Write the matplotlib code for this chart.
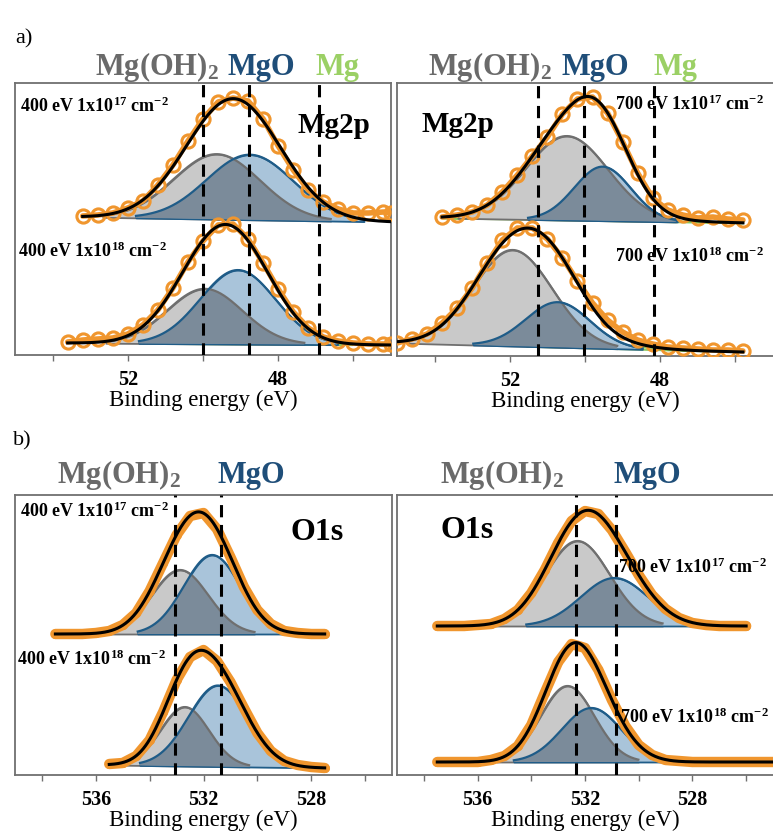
import numpy as np
import matplotlib.pyplot as plt

plt.rcParams['font.family'] = ['Liberation Serif', 'DejaVu Serif']
plt.rcParams['mathtext.fontset'] = 'custom'
plt.rcParams['mathtext.rm'] = 'Liberation Serif'
plt.rcParams['mathtext.bf'] = 'Liberation Serif:bold'
plt.rcParams['mathtext.default'] = 'bf'

SERIF = 'Liberation Serif'

# ---- Mg 2p, 400 eV, 1x10^17 cm^-2 ----
mg400_17_energy = [53.2, 52.8, 52.4, 52.0, 51.6, 51.2, 50.8, 50.4, 50.0, 49.6, 49.2,
                   48.8, 48.4, 48.0, 47.6, 47.2, 46.8, 46.4, 46.0, 45.6, 45.2, 45.0]
mg400_17_counts = [139, 140, 142, 147, 154, 170, 190, 214, 236, 253, 257,
                   254, 236, 209, 185, 165, 153, 146, 142, 142, 143, 142]
mg400_17_bg = [138, 133]            # background at first / last energy
mg400_17_centre = [49.63, 48.75]    # Mg(OH)2, MgO
mg400_17_height = [65, 65]
mg400_17_width = [1.15, 1.15]

# ---- Mg 2p, 400 eV, 1x10^18 cm^-2 ----
mg400_18_energy = [53.6, 53.2, 52.8, 52.4, 52.0, 51.6, 51.2, 50.8, 50.4, 50.0, 49.6,
                   49.2, 48.8, 48.4, 48.0, 47.6, 47.2, 46.8, 46.4, 46.0, 45.6, 45.2, 45.0]
mg400_18_counts = [13, 15, 16, 17, 21, 30, 45, 67, 93, 114, 130,
                   131, 116, 92, 66, 43, 27, 18, 14, 12, 11, 11, 11]
mg400_18_bg = [12, 10]
mg400_18_centre = [49.95, 49.07, 48.4]   # Mg(OH)2, MgO, Mg
mg400_18_height = [55, 74, 4]
mg400_18_width = [1.0, 1.0, 0.9]

# ---- Mg 2p, 700 eV, 1x10^17 cm^-2 ----
mg700_17_energy = [53.8, 53.4, 53.0, 52.6, 52.2, 51.8, 51.4, 51.0, 50.6, 50.2, 49.8,
                   49.4, 49.0, 48.6, 48.2, 47.8, 47.4, 47.0, 46.6, 46.2, 45.8]
mg700_17_counts = [139, 141, 144, 151, 164, 181, 200, 219, 242, 257, 259,
                   243, 214, 183, 158, 146, 141, 138, 139, 137, 136]
mg700_17_bg = [138, 133]
mg700_17_centre = [50.48, 49.53, 49.7]
mg700_17_height = [84, 54, 3]
mg700_17_width = [1.1, 0.75, 1.6]

# ---- Mg 2p, 700 eV, 1x10^18 cm^-2 ----
mg700_18_energy = [55.0, 54.6, 54.2, 53.8, 53.4, 53.0, 52.6, 52.2, 51.8, 51.4, 51.0, 50.6,
                   50.2, 49.8, 49.4, 49.0, 48.6, 48.2, 47.8, 47.4, 47.0, 46.6, 46.2, 45.8]
mg700_18_counts = [13, 17, 22, 33, 48, 68, 93, 116, 128, 128, 117, 98,
                   75, 53, 36, 24, 16, 12, 9, 8, 7, 6, 6, 5]
mg700_18_bg = [13, 4]
mg700_18_centre = [51.92, 50.72, 49.2]
mg700_18_height = [96, 45, 4]
mg700_18_width = [1.05, 0.85, 0.9]

# ---- O 1s, 400 eV, 1x10^17 cm^-2 ----
o400_17_energy = [537.5, 537.0, 536.5, 536.0, 535.5, 535.0, 534.5, 534.0, 533.5, 533.0, 532.5,
                  532.0, 531.5, 531.0, 530.5, 530.0, 529.5, 529.0, 528.5, 528.0, 527.5]
o400_17_counts = [141, 141, 141, 142, 144, 150, 162, 184, 212, 240, 259,
                  262, 246, 218, 188, 165, 151, 144, 142, 141, 141]
o400_17_bg = [141, 141]
o400_17_centre = [532.87, 531.68]
o400_17_height = [64, 79]
o400_17_width = [1.05, 1.05]

# ---- O 1s, 400 eV, 1x10^18 cm^-2 ----
o400_18_energy = [535.5, 535.0, 534.5, 534.0, 533.5, 533.0, 532.5, 532.0, 531.5,
                  531.0, 530.5, 530.0, 529.5, 529.0, 528.5, 528.0, 527.5]
o400_18_counts = [11, 12, 19, 35, 63, 95, 118, 125, 114, 93, 67, 42, 24, 14, 10, 8, 7]
o400_18_bg = [10, 7]
o400_18_centre = [532.69, 531.46]
o400_18_height = [59, 81]
o400_18_width = [0.9, 1.1]

# ---- O 1s, 700 eV, 1x10^17 cm^-2 ----
o700_17_energy = [537.5, 537.0, 536.5, 536.0, 535.5, 535.0, 534.5, 534.0, 533.5, 533.0, 532.5, 532.0,
                  531.5, 531.0, 530.5, 530.0, 529.5, 529.0, 528.5, 528.0, 527.5, 527.0, 526.5, 526.0]
o700_17_counts = [149, 149, 149, 150, 151, 156, 165, 182, 205, 232, 254, 264,
                  261, 245, 223, 200, 180, 166, 157, 152, 150, 149, 149, 149]
o700_17_bg = [149, 149]
o700_17_centre = [532.28, 530.9]
o700_17_height = [85, 48]
o700_17_width = [1.2, 1.25]

# ---- O 1s, 700 eV, 1x10^18 cm^-2 ----
o700_18_energy = [537.5, 537.0, 536.5, 536.0, 535.5, 535.0, 534.5, 534.0, 533.5, 533.0, 532.5, 532.0, 531.5,
                  531.0, 530.5, 530.0, 529.5, 529.0, 528.5, 528.0, 527.5, 527.0, 526.5, 526.0, 525.5, 525.0]
o700_18_counts = [13, 13, 13, 13, 15, 19, 29, 50, 82, 113, 131, 127, 105,
                  75, 49, 30, 20, 15, 14, 13, 13, 13, 13, 13, 13, 13]
o700_18_bg = [13, 13]
o700_18_centre = [532.65, 531.76]
o700_18_height = [76, 54]
o700_18_width = [1.0, 1.1]

# reference energies of Mg(OH)2 / MgO / Mg marked with dashed lines
mg400_lines = [50.0, 48.78, 46.91]
mg700_lines = [51.26, 50.03, 48.17]
o400_lines = [533.06, 531.35]
o700_lines = [532.35, 530.83]

ORANGE = '#f0962e'
GRAY_FACE, GRAY_EDGE = '#c9c9c9', '#6f6f6f'
BLUE_FACE, BLUE_EDGE = '#a9c4da', '#1f5c88'
OVERLAP = '#7b8b9a'
GREEN_FACE, GREEN_EDGE = '#b5dc8f', '#8cc65a'
LBL_GRAY, LBL_BLUE, LBL_GREEN = '#6a6a6a', '#1f4e79', '#9bd065'

W, H = 773, 833


def peak(e, centre, height, width):
    return height * np.exp(-(e - centre) ** 2 / (2 * width ** 2))


def draw_spectrum(ax, energy, counts, bg_ends, centres, heights, widths, dense):
    energy = np.asarray(energy, float)
    e = np.linspace(energy[0], energy[-1], 400)
    bg = np.interp(e, [energy[-1], energy[0]], [bg_ends[1], bg_ends[0]])
    comps = [peak(e, c, h, w) for c, h, w in zip(centres, heights, widths)]
    masks = [comp > 0.03 * h for comp, h in zip(comps, heights)]

    if len(comps) > 2:
        ax.fill_between(e[masks[2]], bg[masks[2]], (bg + comps[2])[masks[2]],
                        facecolor=GREEN_FACE, edgecolor=GREEN_EDGE, lw=1.2, zorder=1)
    g, b = comps[0], comps[1]
    ax.fill_between(e[masks[0]], bg[masks[0]], (bg + g)[masks[0]],
                    facecolor=GRAY_FACE, edgecolor=GRAY_EDGE, lw=1.3, zorder=1.1)
    ax.fill_between(e[masks[1]], bg[masks[1]], (bg + b)[masks[1]],
                    facecolor=BLUE_FACE, edgecolor=BLUE_EDGE, lw=1.3, zorder=1.2)
    both = masks[0] & masks[1]
    ax.fill_between(e[both], bg[both], (bg + np.minimum(g, b))[both],
                    facecolor=OVERLAP, edgecolor='none', zorder=1.3)
    ax.plot(e[masks[0]], (bg + g)[masks[0]], color=GRAY_EDGE, lw=1.6, zorder=2)
    ax.plot(e[masks[1]], (bg + b)[masks[1]], color=BLUE_EDGE, lw=1.6, zorder=2.1)

    if dense:
        ax.plot(energy, counts, color=ORANGE, lw=7.5, solid_capstyle='round',
                solid_joinstyle='round', marker='o', ms=5.5, zorder=4)
    else:
        ax.plot(energy, counts, color=ORANGE, lw=4, solid_capstyle='round',
                marker='o', ms=9.5, mfc='none', mec=ORANGE, mew=2.2, zorder=4)
    ax.plot(e, bg + sum(comps), color='black', lw=2.2, zorder=5)


def setup_axes(ax, xlim, ylim, major, minor, lines, hide_right):
    ax.set_xlim(*xlim)
    ax.set_ylim(*ylim)
    ax.set_yticks([])
    ax.set_xticks(major)
    ax.set_xticklabels([str(t) for t in major], fontweight='bold', fontsize=14.5,
                       fontfamily=SERIF)
    ax.set_xticks(minor, minor=True)
    ax.tick_params(axis='x', which='both', direction='out', length=4, width=1,
                   color='#707070', pad=7)
    for sp in ax.spines.values():
        sp.set_color('#707070')
        sp.set_linewidth(1.3)
    if hide_right:
        ax.spines['right'].set_visible(False)
    for x in lines:
        ax.axvline(x, color='black', lw=2.2, dashes=(4, 2.5), zorder=4.5)
    ax.set_xlabel('Binding energy (eV)', fontsize=16.5, labelpad=0, fontfamily=SERIF)


def px_text(fig, x, y, s, **kw):
    fig.text(x / W, 1 - y / H, s, va='baseline', ha='left', fontfamily=SERIF, **kw)


fig = plt.figure(figsize=(W / 100, H / 100), dpi=100)

ax_tl = fig.add_axes([15 / W, 1 - 355 / H, 376 / W, 272 / H])
ax_tr = fig.add_axes([397 / W, 1 - 356 / H, 376 / W, 273 / H])
ax_bl = fig.add_axes([15 / W, 1 - 775 / H, 377 / W, 280 / H])
ax_br = fig.add_axes([397 / W, 1 - 775 / H, 376 / W, 280 / H])

draw_spectrum(ax_tl, mg400_17_energy, mg400_17_counts, mg400_17_bg,
              mg400_17_centre, mg400_17_height, mg400_17_width, False)
draw_spectrum(ax_tl, mg400_18_energy, mg400_18_counts, mg400_18_bg,
              mg400_18_centre, mg400_18_height, mg400_18_width, False)
draw_spectrum(ax_tr, mg700_17_energy, mg700_17_counts, mg700_17_bg,
              mg700_17_centre, mg700_17_height, mg700_17_width, False)
draw_spectrum(ax_tr, mg700_18_energy, mg700_18_counts, mg700_18_bg,
              mg700_18_centre, mg700_18_height, mg700_18_width, False)
draw_spectrum(ax_bl, o400_17_energy, o400_17_counts, o400_17_bg,
              o400_17_centre, o400_17_height, o400_17_width, True)
draw_spectrum(ax_bl, o400_18_energy, o400_18_counts, o400_18_bg,
              o400_18_centre, o400_18_height, o400_18_width, True)
draw_spectrum(ax_br, o700_17_energy, o700_17_counts, o700_17_bg,
              o700_17_centre, o700_17_height, o700_17_width, True)
draw_spectrum(ax_br, o700_18_energy, o700_18_counts, o700_18_bg,
              o700_18_centre, o700_18_height, o700_18_width, True)

setup_axes(ax_tl, (55, 45), (0, 272), [52, 48], [54, 50, 46], mg400_lines, False)
setup_axes(ax_tr, (55, 45), (0, 273), [52, 48], [54, 50, 46], mg700_lines, True)
setup_axes(ax_bl, (539, 525), (0, 280), [536, 532, 528], [538, 534, 530, 526], o400_lines, False)
setup_axes(ax_br, (539, 525), (0, 280), [536, 532, 528], [538, 534, 530, 526], o700_lines, True)

# panel letters
px_text(fig, 15, 43, 'a)', fontsize=16)
px_text(fig, 13, 445, 'b)', fontsize=16)

# species labels above the panels
big = dict(fontsize=22, fontweight='bold')
for x0, x1, x2 in [(95, 227, 315), (428, 562, 653)]:
    px_text(fig, x0, 75, 'Mg(OH)$_2$', color=LBL_GRAY, **big)
    px_text(fig, x1, 75, 'MgO', color=LBL_BLUE, **big)
    px_text(fig, x2, 75, 'Mg', color=LBL_GREEN, **big)
for x0, x1 in [(57, 218), (440, 613)]:
    px_text(fig, x0, 483, 'Mg(OH)$_2$', color=LBL_GRAY, **big)
    px_text(fig, x1, 483, 'MgO', color=LBL_BLUE, **big)

# core level names
px_text(fig, 297, 133, 'Mg2p', fontsize=21, fontweight='bold')
px_text(fig, 422, 132, 'Mg2p', fontsize=21, fontweight='bold')
px_text(fig, 291, 540, 'O1s', fontsize=23, fontweight='bold')
px_text(fig, 440, 538, 'O1s', fontsize=23, fontweight='bold')

# implantation conditions
small = dict(fontsize=13, fontweight='bold')
px_text(fig, 20, 112, '400 eV 1x10$^{17}$ cm$^{-2}$', **small)
px_text(fig, 18, 257, '400 eV 1x10$^{18}$ cm$^{-2}$', **small)
px_text(fig, 615, 110, '700 eV 1x10$^{17}$ cm$^{-2}$', **small)
px_text(fig, 615, 262, '700 eV 1x10$^{18}$ cm$^{-2}$', **small)
px_text(fig, 20, 517, '400 eV 1x10$^{17}$ cm$^{-2}$', **small)
px_text(fig, 17, 665, '400 eV 1x10$^{18}$ cm$^{-2}$', **small)
px_text(fig, 618, 573, '700 eV 1x10$^{17}$ cm$^{-2}$', **small)
px_text(fig, 620, 723, '700 eV 1x10$^{18}$ cm$^{-2}$', **small)

fig.savefig('out.png', dpi=100)
